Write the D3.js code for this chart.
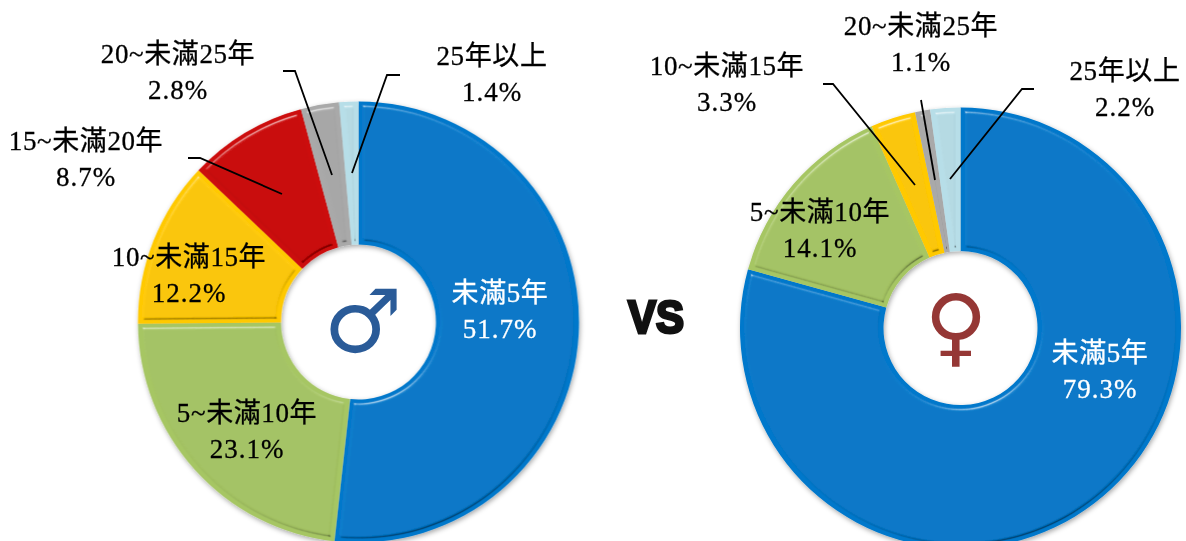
<!DOCTYPE html>
<html>
<head>
<meta charset="utf-8">
<script src="https://cdn.jsdelivr.net/npm/d3@7"></script>
<style>
html, body { margin: 0; padding: 0; background: #fff; overflow: hidden; }
svg { display: block; }
text { font-family: "Liberation Serif", "Noto Sans CJK TC", serif; font-size: 27px; text-anchor: middle; }
</style>
</head>
<body>
<div id="chart"></div>
<script>
// Tenure share by gender, two donuts side by side
let width = 1186;
let height = 541;

let maleCategories = ["未滿5年", "5~未滿10年", "10~未滿15年", "15~未滿20年", "20~未滿25年", "25年以上"];
let maleValues = [51.7, 23.1, 12.2, 8.7, 2.8, 1.4];
let maleLabels = ["51.7%", "23.1%", "12.2%", "8.7%", "2.8%", "1.4%"];

let femaleCategories = ["未滿5年", "5~未滿10年", "10~未滿15年", "20~未滿25年", "25年以上"];
let femaleValues = [79.3, 14.1, 3.3, 1.1, 2.2];
let femaleLabels = ["79.3%", "14.1%", "3.3%", "1.1%", "2.2%"];

let colors = {
    "未滿5年": "#0678cb",
    "5~未滿10年": "#a6c664",
    "10~未滿15年": "#ffc906",
    "15~未滿20年": "#cc0808",
    "20~未滿25年": "#a9a9a9",
    "25年以上": "#b7dee8"
};

let svg = d3.select("#chart")
    .append("svg")
    .attr("width", width)
    .attr("height", height);

// Bevel on each slice: white edge towards the light, dark edge away from it
let defs = svg.append("defs");
let bevel = defs.append("filter").attr("id", "bevel")
    .attr("x", "-10%").attr("y", "-10%").attr("width", "120%").attr("height", "120%")
    .attr("color-interpolation-filters", "sRGB");
bevel.append("feGaussianBlur").attr("in", "SourceAlpha").attr("stdDeviation", 2.4).attr("result", "blur");
bevel.append("feSpecularLighting").attr("in", "blur")
    .attr("surfaceScale", 5).attr("specularConstant", 0.6).attr("specularExponent", 50)
    .attr("lighting-color", "#ffffff").attr("result", "spec")
    .append("feDistantLight").attr("azimuth", 250).attr("elevation", 50);
bevel.append("feComposite").attr("in", "spec").attr("in2", "SourceAlpha").attr("operator", "in").attr("result", "lightEdge");
bevel.append("feSpecularLighting").attr("in", "blur")
    .attr("surfaceScale", 5).attr("specularConstant", 0.6).attr("specularExponent", 50)
    .attr("lighting-color", "#ffffff").attr("result", "spec2")
    .append("feDistantLight").attr("azimuth", 70).attr("elevation", 50);
bevel.append("feColorMatrix").attr("in", "spec2").attr("type", "matrix")
    .attr("values", "0 0 0 0 0  0 0 0 0 0  0 0 0 0 0  0 0 0 0.7 0").attr("result", "darkAll");
bevel.append("feComposite").attr("in", "darkAll").attr("in2", "SourceAlpha").attr("operator", "in").attr("result", "darkEdge");
let merge = bevel.append("feMerge");
merge.append("feMergeNode").attr("in", "SourceGraphic");
merge.append("feMergeNode").attr("in", "darkEdge");
merge.append("feMergeNode").attr("in", "lightEdge");

let shadow = defs.append("filter").attr("id", "shadow")
    .attr("x", "-10%").attr("y", "-10%").attr("width", "120%").attr("height", "120%");
shadow.append("feDropShadow").attr("dx", 1).attr("dy", 2).attr("stdDeviation", 2.5)
    .attr("flood-color", "#000").attr("flood-opacity", 0.35);

let pie = d3.pie().sort(null).value(function(d) { return d.value; });

function drawDonut(cx, cy, outer, inner, categories, values) {
    let arc = d3.arc().innerRadius(inner).outerRadius(outer);
    let rows = categories.map(function(c, i) { return {category: c, value: values[i]}; });
    let g = svg.append("g")
        .attr("transform", "translate(" + cx + "," + cy + ")")
        .attr("filter", "url(#shadow)");
    g.selectAll("path")
        .data(pie(rows))
        .enter()
        .append("path")
            .attr("d", arc)
            .attr("fill", function(d) { return colors[d.data.category]; })
            .attr("filter", "url(#bevel)");
}

drawDonut(358.5, 322, 220.5, 77.5, maleCategories, maleValues);
drawDonut(960.5, 328, 220.5, 77, femaleCategories, femaleValues);

// Leader lines, in page pixels
let leaderLines = [
    [[283, 71], [295, 71], [332, 175]],
    [[400, 75], [387, 75], [352, 173]],
    [[188, 158], [200, 158], [282, 194]],
    [[823, 84], [833, 84], [915, 185]],
    [[921, 100], [935, 180]],
    [[1034, 89], [1022, 89], [950, 179]]
];
let line = d3.line();
svg.selectAll("path.leader")
    .data(leaderLines)
    .enter()
    .append("path")
        .attr("class", "leader")
        .attr("d", line)
        .attr("fill", "none")
        .attr("stroke", "#000")
        .attr("stroke-width", 1.8);

// Label centres, one per category in the same order as the arrays above
let malePos = [[500, 302], [247, 422], [189, 266], [86, 150], [178, 63], [492, 65]];
let femalePos = [[1100, 362], [820, 221], [727, 75], [921, 35], [1125, 80]];

function drawLabels(categories, labels, pos) {
    categories.forEach(function(c, i) {
        let fill = i === 0 ? "#fff" : "#000";
        let t = svg.append("text")
            .attr("x", pos[i][0])
            .attr("y", pos[i][1])
            .attr("fill", fill)
            .attr("stroke", fill)
            .attr("stroke-width", 0.3);
        t.append("tspan").attr("x", pos[i][0]).style("letter-spacing", "0.6px").text(c);
        t.append("tspan").attr("x", pos[i][0]).attr("dy", 36).style("letter-spacing", "1px").text(labels[i]);
    });
}

drawLabels(maleCategories, maleLabels, malePos);
drawLabels(femaleCategories, femaleLabels, femalePos);

// Gender symbols and the VS between the rings
svg.append("text")
    .attr("x", 363).attr("y", 352)
    .style("font-family", "'DejaVu Sans'")
    .style("font-size", "88px")
    .attr("fill", "#2a5b98")
    .text("♂");

svg.append("text")
    .attr("x", 956).attr("y", 356)
    .style("font-family", "'DejaVu Sans'")
    .style("font-size", "86px")
    .attr("fill", "#953735")
    .text("♀");

svg.append("text")
    .attr("x", 656).attr("y", 333)
    .attr("textLength", 56)
    .attr("lengthAdjust", "spacingAndGlyphs")
    .style("font-family", "'Liberation Sans'")
    .style("font-size", "47px")
    .style("font-weight", "bold")
    .attr("fill", "#111")
    .attr("stroke", "#111")
    .attr("stroke-width", 3)
    .text("VS");
</script>
</body>
</html>
